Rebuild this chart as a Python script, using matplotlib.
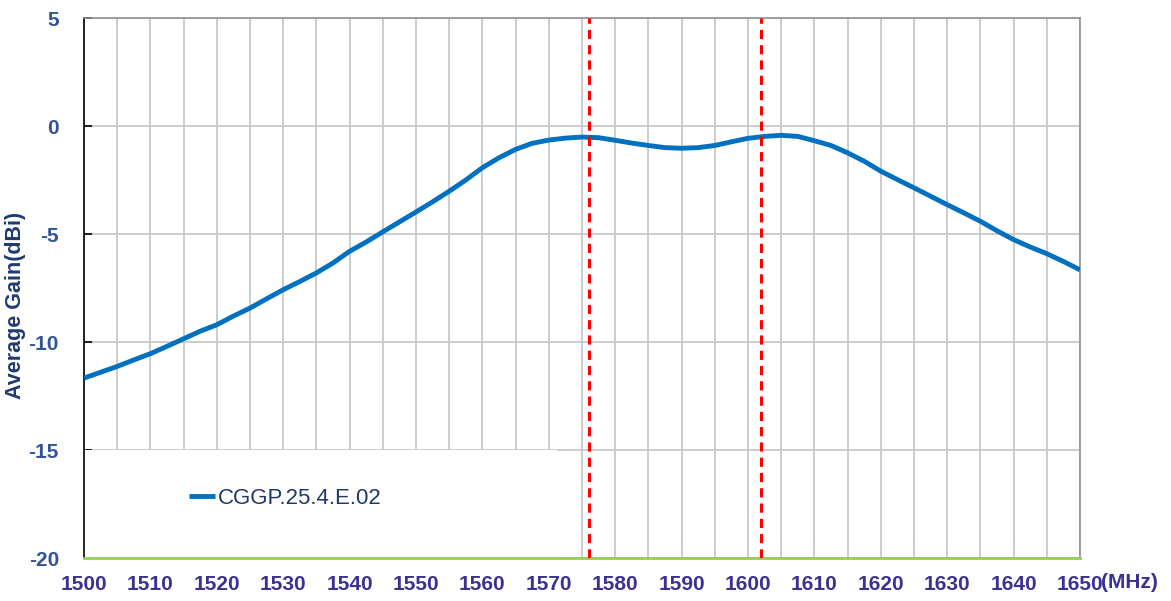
import matplotlib.pyplot as plt
from matplotlib.patches import Rectangle

plt.rcParams['font.family'] = ['Liberation Sans', 'DejaVu Sans']
plt.rcParams['axes.unicode_minus'] = False

# data (every 2.5 MHz)
freq = [1500 + 2.5 * i for i in range(61)]
gain = [-11.67, -11.4, -11.13, -10.83, -10.54, -10.2, -9.85, -9.5, -9.2, -8.8,
        -8.43, -8.0, -7.58, -7.2, -6.8, -6.34, -5.8, -5.37, -4.9, -4.44,
        -3.98, -3.51, -3.02, -2.5, -1.93, -1.47, -1.08, -0.8, -0.65, -0.56,
        -0.51, -0.54, -0.66, -0.79, -0.9, -1.0, -1.03, -1.0, -0.9, -0.73,
        -0.57, -0.48, -0.43, -0.48, -0.68, -0.9, -1.24, -1.63, -2.09, -2.48,
        -2.86, -3.25, -3.64, -4.02, -4.41, -4.85, -5.26, -5.6, -5.91, -6.27,
        -6.66]
markers = [1576, 1602]
series_name = 'CGGP.25.4.E.02'

fig = plt.figure(figsize=(11.71, 6.01), dpi=100)
ax = fig.add_axes([0.0717, 0.0715, 0.8506, 0.8985])

ax.plot(freq, gain, color='#0070C0', lw=3.5, zorder=3, label=series_name,
        solid_capstyle='butt', solid_joinstyle='round')
for m in markers:
    ax.axvline(m, color='#FF0000', lw=2.2, ls=(0, (3, 2)), zorder=4)

ax.set_xlim(1500, 1650)
ax.set_ylim(-20, 5)
ax.set_xticks(range(1500, 1651, 10))
ax.set_xticks(range(1505, 1651, 10), minor=True)
ax.set_yticks(range(-20, 6, 5))
ax.set_axisbelow(True)
ax.grid(True, which='both', axis='x', color='#C8C8C8', lw=1.3)
ax.grid(True, which='major', axis='y', color='#C8C8C8', lw=1.3)

# white box behind the legend hides the grid in the lower-left corner
ax.add_patch(Rectangle((0, 0), 0.475, 0.2, transform=ax.transAxes,
                       facecolor='white', edgecolor='none', zorder=1))

ax.spines['left'].set_color('black')
ax.spines['left'].set_linewidth(1.2)
ax.spines['bottom'].set_color('#92D050')
ax.spines['bottom'].set_linewidth(2)
ax.spines['top'].set_color('#909090')
ax.spines['top'].set_linewidth(1.2)
ax.spines['right'].set_color('#909090')
ax.spines['right'].set_linewidth(1.2)

ax.tick_params(axis='y', direction='in', length=6, width=1.2, pad=18,
               labelsize=15, labelcolor='#2F5597')
ax.tick_params(axis='x', which='both', length=0, pad=12,
               labelsize=15, labelcolor='#3B3192')
for lbl in ax.get_xticklabels() + ax.get_yticklabels():
    lbl.set_fontweight('bold')

ax.set_ylabel('Average Gain(dBi)', fontsize=15.5, fontweight='bold',
              color='#1F3B6E')
ax.yaxis.set_label_coords(-0.058, 0.467)
ax.text(1.021, -0.045, '(MHz)', transform=ax.transAxes, fontsize=15,
        fontweight='bold', color='#3B3192', ha='left', va='center')

leg = ax.legend(loc='center left', bbox_to_anchor=(0.085, 0.11), frameon=False,
                handlelength=1.2, handletextpad=0.1, fontsize=16)
for t in leg.get_texts():
    t.set_color('#1F3864')

fig.savefig('out.png', dpi=100)
